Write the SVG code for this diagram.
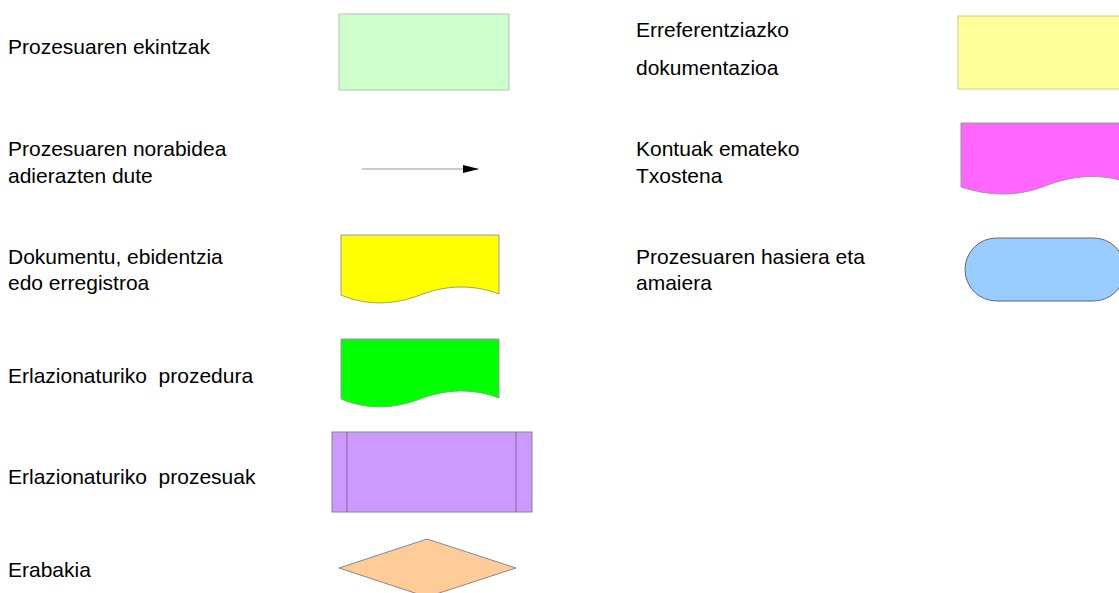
<svg xmlns="http://www.w3.org/2000/svg" width="1119" height="593" viewBox="0 0 1119 593">
<style>
text{font-family:"Liberation Sans",Arial,sans-serif;font-size:21px;fill:#000;white-space:pre}
.sh{stroke:#999;stroke-width:1}
</style>
<defs>
<marker id="ah" markerWidth="16" markerHeight="8" refX="15" refY="4" orient="auto" markerUnits="userSpaceOnUse">
<path d="M0,0 L16,4 L0,8 Z" fill="#000"/>
</marker>
</defs>
<rect width="1119" height="593" fill="#fff"/>
<g id="labels">
<text x="8" y="54">Prozesuaren ekintzak</text>
<text x="8" y="156">Prozesuaren norabidea</text>
<text x="8" y="183">adierazten dute</text>
<text x="8" y="264">Dokumentu, ebidentzia</text>
<text x="8" y="290">edo erregistroa</text>
<text x="8" y="383">Erlazionaturiko  prozedura</text>
<text x="8" y="484">Erlazionaturiko  prozesuak</text>
<text x="8" y="577">Erabakia</text>
<text x="636" y="37">Erreferentziazko</text>
<text x="636" y="75">dokumentazioa</text>
<text x="636" y="156">Kontuak emateko</text>
<text x="636" y="183">Txostena</text>
<text x="636" y="264">Prozesuaren hasiera eta</text>
<text x="636" y="290">amaiera</text>
</g>
<g id="node-ekintzak"><rect x="339" y="14" width="170" height="76" fill="#CCFFCC" stroke="#BBBBBB"/></g>
<g id="connectors"><line x1="362" y1="169" x2="478" y2="169" stroke="#999" stroke-width="1.2" marker-end="url(#ah)"/></g>
<g id="node-dokumentu"><path class="sh" d="M341,235 H499 V294 C473,284 446,285 420,295 C394,305 367,306 341,295 Z" fill="#FFFF00"/></g>
<g id="node-prozedura"><path class="sh" d="M341,339 H499 V398 C473,388 446,389 420,399 C394,409 367,410 341,399 Z" fill="#00FF00"/></g>
<g id="node-prozesuak"><rect x="332" y="432" width="200" height="80" fill="#CC99FF" stroke="#888"/><line x1="347" y1="432" x2="347" y2="512" stroke="#886699"/><line x1="516" y1="432" x2="516" y2="512" stroke="#886699"/></g>
<g id="node-erabakia"><polygon points="339,568 427,539 516,568 427,597" fill="#FFCC99" stroke="#888"/></g>
<g id="node-erreferentzia"><rect x="958" y="16" width="170" height="73" fill="#FFFF99" stroke="#CCCC88"/></g>
<g id="node-txostena"><path class="sh" d="M961,123 H1130 V183 C1101,173 1073,175 1045,186 C1017,197 989,196 961,187 Z" fill="#FF66FF"/></g>
<g id="node-hasiera"><rect x="965" y="238" width="160" height="63" rx="31.5" fill="#99CCFF" stroke="#666"/></g>
</svg>
